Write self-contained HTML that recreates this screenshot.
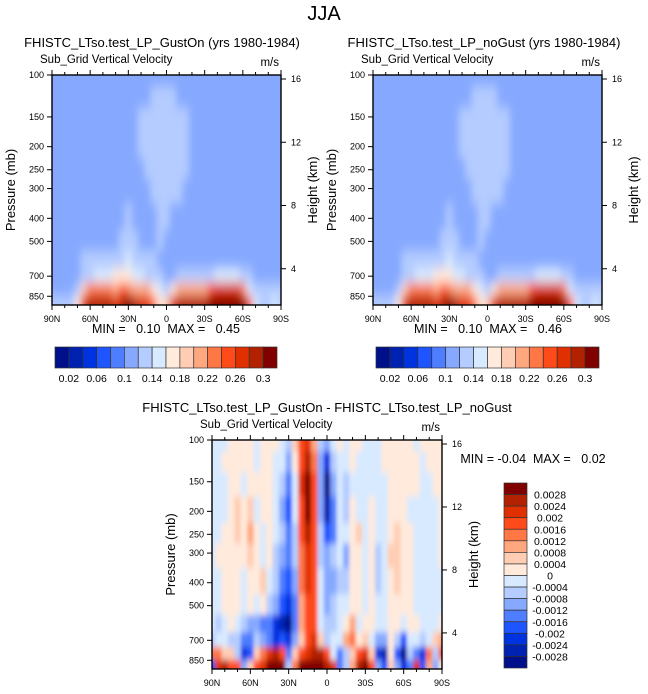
<!DOCTYPE html>
<html><head><meta charset="utf-8"><style>
html,body{margin:0;padding:0;background:#fff;}
svg{display:block;font-family:"Liberation Sans",sans-serif;}
.pre{white-space:pre;}
</style></head><body>
<svg id="chart" width="648" height="694" viewBox="0 0 648 694" xmlns="http://www.w3.org/2000/svg"></svg>
<script>
// ---- data ----
const lats = [90,85,80,75,70,65,60,55,50,45,40,35,30,25,20,15,10,5,0,-5,-10,-15,-20,-25,-30,-35,-40,-45,-50,-55,-60,-65,-70,-75,-80,-85,-90];
const pressures = [100,125,150,200,250,300,400,500,600,700,800,900];
const pressureTicks = [100,150,200,250,300,400,500,700,850];
const heightTicks = [16,12,8,4];
const latTickLabels = ['90N','60N','30N','0','30S','60S','90S'];
const topLevelLabels = ['0.02','0.06','0.1','0.14','0.18','0.22','0.26','0.3'];
const diffLevelLabels = ['0.0028','0.0024','0.002','0.0016','0.0012','0.0008','0.0004','0','-0.0004','-0.0008','-0.0012','-0.0016','-0.002','-0.0024','-0.0028'];
// GustOn field, units of 0.01 m/s
const gustOn = [
[11,11,11,11,11,11,11,11,11,11,11,11,11,11,11,11,11,11,11,11,11,11,11,11,11,11,11,11,11,11,11,11,11,11,11,11,11],
[11,11,11,11,11,11,11,11,11,11,11,11,11,11,11,11,12,13,13,12,11,11,11,11,11,11,11,11,11,11,11,11,11,11,11,11,11],
[11,11,11,11,11,11,11,11,11,11,11,11,11,11,12,13,13,13,13,13,13,12,11,11,11,11,11,11,11,11,11,11,11,11,11,11,11],
[11,11,11,11,11,11,11,11,11,11,11,11,11,11,12,13,13,13,13,13,13,12,11,11,11,11,11,11,11,11,11,11,11,11,11,11,11],
[11,11,11,11,11,11,11,11,11,11,11,11,11,11,11,12,13,13,13,13,13,12,11,11,11,11,11,11,11,11,11,11,11,11,11,11,11],
[11,11,11,11,11,11,11,11,11,11,11,11,11,11,11,11,12,13,13,13,12,11,11,11,11,11,11,11,11,11,11,11,11,11,11,11,11],
[11,11,11,11,11,11,11,11,11,11,11,11,12,11,11,11,11,13,12,11,11,11,11,11,11,11,11,11,11,11,11,11,11,11,11,11,11],
[11,11,11,11,11,11,11,11,11,11,11,12,13,12,11,11,11,13,11,11,11,11,11,11,11,11,11,11,11,11,11,11,11,11,11,11,11],
[11,11,11,11,11,12,12,12,12,12,12,13,14,13,12,12,12,11,11,11,11,11,11,11,11,11,11,11,11,11,11,11,11,11,11,11,11],
[11,11,11,11,11,12,13,15,15,15,17,17,16,14,14,13,13,12,11,11,12,13,13,13,13,13,14,14,14,14,13,12,11,11,11,11,11],
[11,11,11,11,12,18,22,22,22,22,20,24,22,20,20,20,17,14,13,16,20,20,20,20,20,24,26,26,26,26,22,15,13,12,12,12,12],
[12,13,12,12,16,26,28,28,28,28,26,28,30,28,26,26,22,16,18,26,28,28,28,28,28,30,32,32,32,32,32,24,14,12,12,14,12]
];
// noGust field, units of 0.01 m/s
const noGust = [
[11,11,11,11,11,11,11,11,11,11,11,11,11,11,11,11,11,11,11,11,11,11,11,11,11,11,11,11,11,11,11,11,11,11,11,11,11],
[11,11,11,11,11,11,11,11,11,11,11,11,11,11,11,11,12,13,13,12,11,11,11,11,11,11,11,11,11,11,11,11,11,11,11,11,11],
[11,11,11,11,11,11,11,11,11,11,11,11,11,11,12,13,13,13,13,13,13,12,11,11,11,11,11,11,11,11,11,11,11,11,11,11,11],
[11,11,11,11,11,11,11,11,11,11,11,11,11,11,12,13,13,13,13,13,13,12,11,11,11,11,11,11,11,11,11,11,11,11,11,11,11],
[11,11,11,11,11,11,11,11,11,11,11,11,11,11,11,12,13,13,13,13,13,12,11,11,11,11,11,11,11,11,11,11,11,11,11,11,11],
[11,11,11,11,11,11,11,11,11,11,11,11,11,11,11,11,12,13,13,13,12,11,11,11,11,11,11,11,11,11,11,11,11,11,11,11,11],
[11,11,11,11,11,11,11,11,11,11,11,11,12,11,11,11,11,13,12,11,11,11,11,11,11,11,11,11,11,11,11,11,11,11,11,11,11],
[11,11,11,11,11,11,11,11,11,11,11,12,13,12,11,11,11,13,11,11,11,11,11,11,11,11,11,11,11,11,11,11,11,11,11,11,11],
[11,11,11,11,11,12,12,12,12,12,12,13,14,13,12,12,12,11,11,11,11,11,11,11,11,11,11,11,11,11,11,11,11,11,11,11,11],
[11,11,11,11,11,12,13,15,15,15,17,17,16,14,14,13,13,12,11,11,12,13,13,13,13,13,14,14,14,14,13,12,11,11,11,11,11],
[11,11,11,11,12,18,22,22,22,22,20,24,22,20,20,20,17,14,13,16,20,20,20,20,20,24,26,26,26,26,22,15,13,12,12,12,12],
[12,13,12,12,16,26,28,28,28,28,26,28,30,28,26,26,22,16,18,26,28,28,28,28,28,30,32,32,32,32,32,24,14,12,12,14,12]
];
// difference field, units of 1e-4 m/s
const diffE4 = [
[-2,-2,-2,2,2,2,2,-2,2,2,2,-2,-6,6,16,20,10,-6,-10,-4,2,-2,2,2,-2,-2,-2,2,2,2,2,2,-2,2,2,2,2],
[-2,-2,2,2,2,2,2,-2,2,2,-2,-4,-10,2,18,26,14,-10,-22,-8,-2,-4,2,-2,-2,-2,-2,2,2,2,2,2,2,-2,2,2,2],
[-2,-2,-2,2,2,-2,2,2,2,2,-2,-6,-16,-2,20,30,16,-10,-30,-12,-4,-6,-2,-2,-2,-2,-2,-2,2,2,2,2,2,-2,-2,2,2],
[-2,-2,-2,2,6,2,6,-2,2,2,-4,-10,-18,-4,18,28,18,-12,-26,-16,-4,-6,2,-2,-2,2,-2,-2,2,2,2,-2,-2,-2,-2,-2,2],
[-2,-2,2,2,6,2,8,2,-2,2,-2,-8,-16,-6,16,24,18,-8,-18,-14,-2,-4,2,6,-2,2,-2,-2,2,6,2,2,-2,-2,-2,-2,2],
[-2,2,2,2,2,2,6,2,-2,2,-6,-10,-16,-6,14,22,16,-6,-12,-8,-4,-10,2,2,-2,2,-6,-2,6,6,2,2,-2,-2,-2,-2,2],
[-2,-2,2,2,2,-2,2,2,6,-2,-6,-14,-20,-10,12,20,16,-4,-10,-10,-6,-6,2,2,-2,2,-6,-2,2,6,2,2,-2,-2,-2,-2,-2],
[-2,-2,2,2,2,-2,2,-2,2,-6,-10,-18,-24,-14,10,18,16,-2,-12,-8,-4,-4,2,2,-2,2,-4,-2,2,2,2,2,-2,-2,-2,-2,-2],
[-2,-6,-2,2,-2,-6,-10,-12,-14,-16,-22,-26,-30,-16,8,18,16,-2,-6,-6,-2,2,10,-2,2,2,-2,-2,2,2,-2,2,2,-2,-2,-2,2],
[-6,-4,-2,-6,-6,-14,-16,-6,-10,-16,-24,-20,-24,-10,6,18,20,6,-6,-4,-2,8,14,2,6,-4,-12,-10,2,-6,-20,-4,-2,-8,-2,4,10],
[12,14,6,4,-6,-24,-18,4,14,22,26,16,-16,6,16,22,26,24,16,-4,-16,-6,6,18,20,6,-24,-28,2,-20,-30,-8,-16,-24,12,-8,16],
[-20,20,24,18,16,-12,4,16,20,30,32,28,-8,12,28,32,32,30,26,20,-16,-8,8,24,30,16,-12,-20,4,-12,-24,-14,20,-20,10,-10,0]
];
// ---- styling ----
const PAL = ['#00108a','#0022b0','#0033e0','#1e55ff','#4f7dff','#86a9ff','#b4ccff','#d8eaff','#ffeadc','#ffcdb4','#ffa880','#ff7744','#ff4a1a','#e03000','#b22200','#800000'];
const NS='http://www.w3.org/2000/svg';
const svg=document.getElementById('chart');
function el(tag,attrs,parent){const e=document.createElementNS(NS,tag);for(const k in attrs)e.setAttribute(k,attrs[k]);(parent||svg).appendChild(e);return e;}
function txt(s,x,y,size,anchor,parent,extra){const t=el('text',Object.assign({x:x,y:y,'font-size':size,'text-anchor':anchor||'start',fill:'#000'},extra||{}),parent);t.textContent=s;return t;}
const defs=el('defs',{});
const f1=el('filter',{id:'blurTop',x:'-10%',y:'-10%',width:'120%',height:'120%'},defs);
el('feGaussianBlur',{stdDeviation:'3.5 6'},f1);
const f2=el('filter',{id:'blurDiff',x:'-10%',y:'-10%',width:'120%',height:'120%'},defs);
el('feGaussianBlur',{stdDeviation:'1.8 3.5'},f2);

function panel(name,ox,oy,w,h,rows,colorIdx,title,titleX,filt){
  const g=el('g',{});
  
  
  const xS=lat=>ox+(90-lat)/180*w;
  const pBot=925;
  const yS=p=>oy+Math.log(p/100)/Math.log(pBot/100)*h;
  const cp=el('clipPath',{id:'clip-'+name},defs);
  el('rect',{x:ox,y:oy,width:w,height:h},cp);
  const cg=el('g',{'clip-path':'url(#clip-'+name+')'},g);
  const fg=el('g',{filter:'url(#'+filt+')'},cg);
  for(let r=0;r<pressures.length;r++){
    const pTop=r===0?70:Math.sqrt(pressures[r-1]*pressures[r]);
    const pB=r===pressures.length-1?1300:Math.sqrt(pressures[r]*pressures[r+1]);
    for(let c=0;c<lats.length;c++){
      const x0=xS(lats[c]+2.5)-(c===0?12:0), x1=xS(lats[c]-2.5)+(c===lats.length-1?12:0);
      const cell=el('rect',{x:x0,y:yS(pTop),width:x1-x0+0.6,height:yS(pB)-yS(pTop)+0.6,fill:PAL[colorIdx(rows[r][c])]},fg);
      
      
    }
  }
  el('rect',{x:ox,y:oy,width:w,height:h,fill:'none',stroke:'#000','stroke-width':1.4},g);
  for(let lat=90;lat>=-90;lat-=10){
    const x=xS(lat),maj=lat%30===0;
    el('line',{x1:x,x2:x,y1:oy+h,y2:oy+h+(maj?5:3),stroke:'#000','stroke-width':1},g);
    el('line',{x1:x,x2:x,y1:oy,y2:oy-(maj?5:3),stroke:'#000','stroke-width':1},g);
  }
  latTickLabels.forEach((s,i)=>{const t=txt(s,xS(90-30*i),oy+h+17,9,'middle',g);});
  pressureTicks.forEach(p=>{const y=yS(p);el('line',{x1:ox-5,x2:ox,y1:y,y2:y,stroke:'#000'},g);
    const t=txt(String(p),ox-8,y+3,9,'end',g);});
  const hY=km=>oy+4+(16-km)/12*(h*0.825);
  heightTicks.forEach(km=>{const y=hY(km);el('line',{x1:ox+w,x2:ox+w+5,y1:y,y2:y,stroke:'#000'},g);
    const t=txt(String(km),ox+w+10,y+3,9,'start',g);});
  const yl=txt('Pressure (mb)',0,0,13,'middle',g,{transform:'translate('+(ox-37)+','+(oy+h/2)+') rotate(-90)'});
  
  const hl=txt('Height (km)',0,0,13,'middle',g,{transform:'translate('+(ox+w+36)+','+(oy+h/2)+') rotate(-90)'});
  
  const sub=txt('Sub_Grid Vertical Velocity',ox-12,oy-12,11.5,'start',g);
  
  const un=txt('m/s',ox+w-2,oy-9,11.5,'end',g);
  
  const tt=txt(title,titleX,oy-28,13,'middle',g);
  
  return g;
}
const topIdx=v=>Math.max(0,Math.min(15,Math.floor(v/2)));
const diffIdx=v=>Math.max(0,Math.min(15,Math.floor(v/4)+8));

const jja=txt('JJA',324,20,20,'middle');


panel('panel-gust-on',52,75,229,230,gustOn,topIdx,'FHISTC_LTso.test_LP_GustOn (yrs 1980-1984)',162,'blurTop');
panel('panel-no-gust',373,75,229,230,noGust,topIdx,'FHISTC_LTso.test_LP_noGust (yrs 1980-1984)',484,'blurTop');
panel('panel-difference',212,440,230,229,diffE4,diffIdx,'FHISTC_LTso.test_LP_GustOn - FHISTC_LTso.test_LP_noGust',327,'blurDiff');

function minmax(s,x,y,name){const t=txt(s,x,y,12.5,'middle',null,{'class':'pre'});}
minmax('MIN =   0.10  MAX =   0.45',166,333,'min-max-gust-on');
minmax('MIN =   0.10  MAX =   0.46',488,333,'min-max-no-gust');
minmax('MIN = -0.04  MAX =   0.02',533,463,'min-max-difference');

function hbar(name,x0,x1,y,hgt){
  const g=el('g',{});
  
  
  const bw=(x1-x0)/16;
  PAL.forEach((c,i)=>{const r=el('rect',{x:x0+i*bw,y:y,width:bw,height:hgt,fill:c,stroke:'#333','stroke-width':0.7},g);
    });
  topLevelLabels.forEach((s,i)=>{const t=txt(s,x0+(1+2*i)*bw,y+hgt+14,10.5,'middle',g);});
}
hbar('colorbar-gust-on',55,277,347,21);
hbar('colorbar-no-gust',376,599,347,21);
(function(){
  const g=el('g',{});
  
  
  const x0=504,y0=483,w=23,bh=(668-483)/16;
  for(let i=0;i<16;i++){const r=el('rect',{x:x0,y:y0+i*bh,width:w,height:bh,fill:PAL[15-i],stroke:'#333','stroke-width':0.7},g);
    }
  diffLevelLabels.forEach((s,i)=>{const t=txt(s,550,y0+(i+1)*bh+4,10.5,'middle',g);});
})();
</script>
</body></html>
